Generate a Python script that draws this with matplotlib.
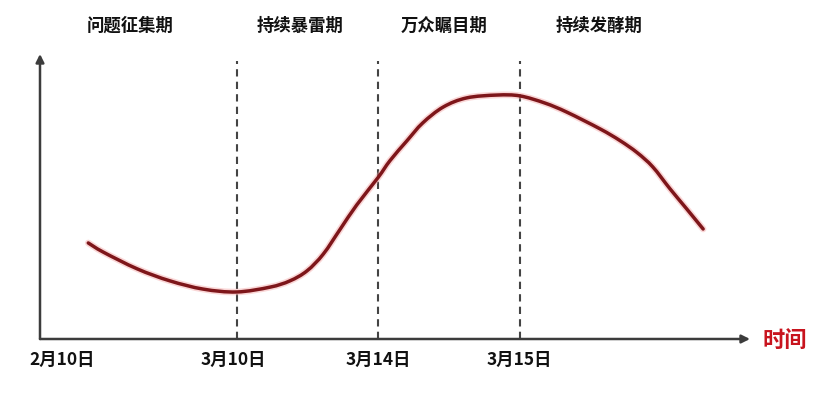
import matplotlib
matplotlib.use("Agg")
import matplotlib.pyplot as plt
from matplotlib.path import Path
from matplotlib.patches import PathPatch

plt.rcParams['font.family'] = ['Noto Sans CJK SC', 'DejaVu Sans']

# schematic curve (x: timeline position 0-100, y: heat 0-100)
curve_x = [6.8, 8.9, 13.7, 18.3, 23.0, 27.7, 32.4, 35.2, 37.6, 39.9, 42.3, 44.6,
           47.6, 49.3, 51.7, 53.9, 56.8, 60.1, 64.4, 67.6, 71.1, 74.2, 78.9,
           81.7, 84.1, 86.3, 88.7, 91.1, 93.4]
curve_y = [33.7, 30.5, 24.6, 20.4, 17.5, 16.5, 18.2, 20.4, 23.9, 29.8, 38.6, 47.0,
           56.6, 62.6, 69.6, 75.8, 81.4, 84.6, 85.6, 85.3, 82.8, 79.6, 73.7,
           69.6, 65.4, 60.4, 52.8, 45.6, 38.6]

divider_x = [27.7, 47.6, 67.6]
tick_pos = [3.1, 27.2, 47.6, 67.5]
tick_labels = ['2月10日', '3月10日', '3月14日', '3月15日']
stage_pos = [12.7, 36.6, 56.9, 78.7]
stage_labels = ['问题征集期', '持续暴雷期', '万众瞩目期', '持续发酵期']
axis_label = '时间'


def smooth_path(xs, ys):
    pts = list(zip(xs, ys))
    n = len(pts)
    verts = [pts[0]]
    codes = [Path.MOVETO]
    for i in range(n - 1):
        p0 = pts[i - 1] if i > 0 else pts[i]
        p1 = pts[i]
        p2 = pts[i + 1]
        p3 = pts[i + 2] if i + 2 < n else pts[i + 1]
        c1 = (p1[0] + (p2[0] - p0[0]) / 6, p1[1] + (p2[1] - p0[1]) / 6)
        c2 = (p2[0] - (p3[0] - p1[0]) / 6, p2[1] - (p3[1] - p1[1]) / 6)
        verts += [c1, c2, p2]
        codes += [Path.CURVE4] * 3
    return Path(verts, codes)


W, H = 830, 402
fig = plt.figure(figsize=(W / 100, H / 100), dpi=100)
fig.patch.set_facecolor('white')
ax = fig.add_axes([40 / W, (H - 340) / H, (750 - 40) / W, (340 - 55) / H])
ax.set_xlim(0, 100)
ax.set_ylim(0, 100)
for s in ax.spines.values():
    s.set_visible(False)
ax.set_yticks([])
ax.set_xticks(tick_pos, tick_labels, fontsize=12.5, fontweight='bold', color='#111111')
ax.tick_params(axis='x', length=0, pad=8)

axis_col = '#3c3c3c'
ax.annotate('', xy=(1.0, 0), xytext=(0, 0), xycoords='axes fraction',
            arrowprops=dict(arrowstyle='-|>', color=axis_col, lw=1.8,
                            mutation_scale=12, shrinkA=0, shrinkB=0))
ax.annotate('', xy=(0, 1.0), xytext=(0, 0), xycoords='axes fraction',
            arrowprops=dict(arrowstyle='-|>', color=axis_col, lw=1.8,
                            mutation_scale=12, shrinkA=0, shrinkB=0))

for xv in divider_x:
    ax.axvline(xv, ymin=0, ymax=0.975, color='#444444', lw=1.5,
               linestyle=(0, (3.5, 2.5)), zorder=1)

path = smooth_path(curve_x, curve_y)
ax.add_patch(PathPatch(path, facecolor='none', edgecolor='#f4a6a6', lw=4.8,
                       alpha=0.45, capstyle='round', joinstyle='round', zorder=2))
ax.add_patch(PathPatch(path, facecolor='none', edgecolor='#7e161a', lw=2.5,
                       capstyle='round', joinstyle='round', zorder=3))

for xp, lab in zip(stage_pos, stage_labels):
    ax.text(xp, 110.2, lab, ha='center', va='center', fontsize=12.5,
            fontweight='bold', color='#111111', clip_on=False)

ax.text(104.9, 0, axis_label, ha='center', va='center', fontsize=16,
        fontweight='bold', color='#c8141e', clip_on=False)

fig.savefig('out.png', dpi=100, facecolor='white')
